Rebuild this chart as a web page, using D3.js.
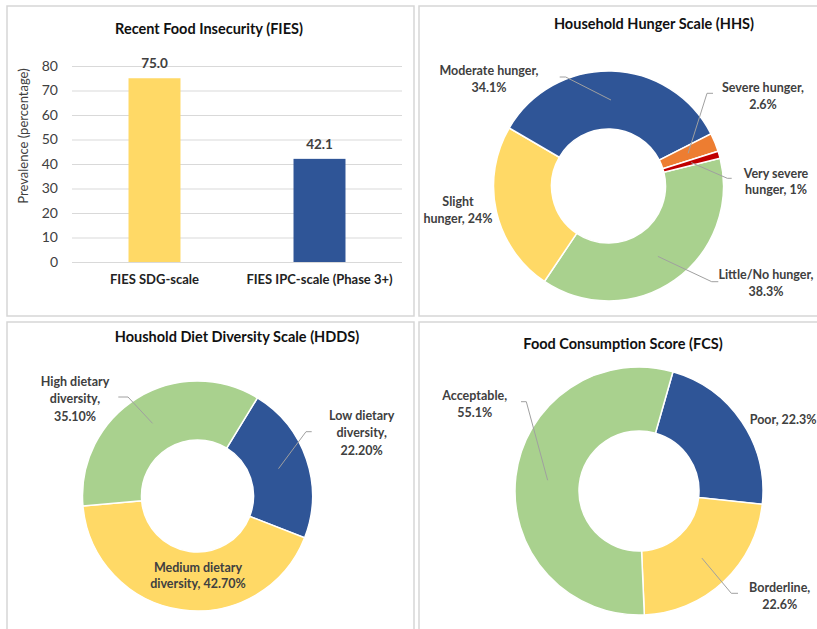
<!DOCTYPE html>
<html><head><meta charset="utf-8">
<script src="https://cdn.jsdelivr.net/npm/d3@7"></script>
<style>
body{margin:0;background:#fff}
svg{display:block;font-family:Lato,"Open Sans",sans-serif}
</style>
</head><body>
<svg id="c" width="817" height="629"></svg>
<script>
// ---------- DATA ----------
const fiesCategories = ["FIES SDG-scale", "FIES IPC-scale (Phase 3+)"];
const fiesValues = [75.0, 42.1];
const fiesTicks = [0, 10, 20, 30, 40, 50, 60, 70, 80];

const hhsCategories = ["Little/No hunger", "Slight hunger", "Moderate hunger", "Severe hunger", "Very severe hunger"];
const hhsValues = [38.3, 24, 34.1, 2.6, 1];
const hhsLabelLines = [["Little/No hunger,", "38.3%"], ["Slight", "hunger, 24%"], ["Moderate hunger,", "34.1%"], ["Severe hunger,", "2.6%"], ["Very severe", "hunger, 1%"]];

const hddsCategories = ["Low dietary diversity", "Medium dietary diversity", "High dietary diversity"];
const hddsValues = [22.2, 42.7, 35.1];
const hddsLabelLines = [["Low dietary", "diversity,", "22.20%"], ["Medium dietary", "diversity, 42.70%"], ["High dietary", "diversity,", "35.10%"]];

const fcsCategories = ["Poor", "Borderline", "Acceptable"];
const fcsValues = [22.3, 22.6, 55.1];
const fcsLabelLines = [["Poor, 22.3%"], ["Borderline,", "22.6%"], ["Acceptable,", "55.1%"]];

// ---------- STYLE ----------
const C = {blue:"#2F5597", yellow:"#FFD966", green:"#A9D18E", orange:"#ED7D31", red:"#C00000"};
const textDark = "#404040";
const svg = d3.select("#c");

// panels
const panels = [[7,6,407,310],[419,6,420,310],[7,322,407,320],[419,322,420,320]];
svg.selectAll("rect.panel").data(panels).join("rect")
  .attr("class","panel").attr("x",d=>d[0]).attr("y",d=>d[1]).attr("width",d=>d[2]).attr("height",d=>d[3])
  .attr("fill","#fff").attr("stroke","#d6d6d6").attr("stroke-width",1.5);

function title(txt, x, y){
  svg.append("text").attr("x",x).attr("y",y).attr("text-anchor","middle").attr("dominant-baseline","central")
    .attr("font-weight","bold").attr("font-size",14.5).attr("fill","#111").text(txt);
}

// ---------- BAR CHART ----------
title("Recent Food Insecurity (FIES)", 209, 28);
const y = d3.scaleLinear().domain([0,80]).range([262,66]);
const x = d3.scaleBand().domain(fiesCategories).range([72,402]).paddingInner(0.685).paddingOuter(0.3425);
const gy = svg.append("g").attr("transform","translate(72,0)")
  .call(d3.axisLeft(y).tickValues(fiesTicks).tickSize(-330).tickPadding(14));
gy.select(".domain").remove();
gy.selectAll(".tick line").attr("stroke","#d9d9d9").attr("stroke-width",1.2);
gy.selectAll(".tick text").attr("font-size",14).attr("fill",textDark).attr("font-family","Lato, sans-serif");
const gx = svg.append("g").attr("transform","translate(0,262)")
  .call(d3.axisBottom(x).tickSize(0).tickPadding(13));
gx.select(".domain").remove();
gx.selectAll(".tick text").attr("font-size",13).attr("font-weight","bold").attr("fill","#222").attr("font-family","Lato, sans-serif");
svg.append("g").selectAll("rect").data(fiesValues).join("rect")
  .attr("x",(d,i)=>x(fiesCategories[i])).attr("width",x.bandwidth())
  .attr("y",d=>y(d)).attr("height",d=>y(0)-y(d))
  .attr("fill",(d,i)=>[C.yellow,C.blue][i]);
svg.append("g").selectAll("text").data(fiesValues).join("text")
  .attr("x",(d,i)=>x(fiesCategories[i])+x.bandwidth()/2).attr("y",d=>y(d)-15)
  .attr("text-anchor","middle").attr("dominant-baseline","central")
  .attr("font-size",13.5).attr("font-weight","bold").attr("fill",textDark)
  .text(d=>d.toFixed(1));
svg.append("text").attr("transform","translate(23,136) rotate(-90)")
  .attr("text-anchor","middle").attr("dominant-baseline","central")
  .attr("font-size",13).attr("fill",textDark).text("Prevalence (percentage)");

// ---------- DONUTS ----------
function donut(o){
  const g = svg.append("g").attr("transform",`translate(${o.cx},${o.cy})`);
  const a0 = o.startDeg*Math.PI/180;
  const pie = d3.pie().sort(null).value(d=>d).startAngle(a0).endAngle(a0+2*Math.PI);
  const arc = d3.arc().innerRadius(o.rInner).outerRadius(o.rOuter);
  const arcs = pie(o.values);
  g.selectAll("path").data(arcs).join("path").attr("d",arc)
    .attr("fill",(d,i)=>o.colors[i]).attr("stroke","#fff").attr("stroke-width",1.5);
  arcs.forEach((d,i)=>{
    const L = o.layout[i];
    if(L.leader){
      const c = arc.centroid(d);
      const pts = [L.leader, [L.leader[0]+L.tail, L.leader[1]], [o.cx+c[0], o.cy+c[1]]];
      svg.append("polyline").attr("points",pts.map(p=>p.join(",")).join(" "))
        .attr("fill","none").attr("stroke","#a0a0a0").attr("stroke-width",1);
    }
    const t = svg.append("text").attr("text-anchor",L.anchor||"middle").attr("dominant-baseline","central")
      .attr("font-size",12.5).attr("font-weight","bold").attr("fill",textDark);
    o.lines[i].forEach((ln,k)=>{
      t.append("tspan").attr("x",L.x).attr("y",L.y+k*L.gap).text(ln);
    });
  });
}

title("Household Hunger Scale (HHS)", 654, 23);
donut({cx:608.5, cy:186, rOuter:115, rInner:57, startDeg:76,
  values:hhsValues, colors:[C.green,C.yellow,C.blue,C.orange,C.red], lines:hhsLabelLines,
  layout:[
    {x:766, y:274, gap:17, leader:[718.3,281.7], tail:-6.6},
    {x:458, y:201, gap:16.5},
    {x:489, y:70, gap:16.5, leader:[559.7,77], tail:6},
    {x:763, y:87, gap:16.5, leader:[713,93.3], tail:-6},
    {x:776, y:173, gap:15.5, leader:[731.7,178.3], tail:-4.4}
  ]});

title("Houshold Diet Diversity Scale (HDDS)", 237, 336);
donut({cx:197.5, cy:496, rOuter:115, rInner:56, startDeg:31.4,
  values:hddsValues, colors:[C.blue,C.yellow,C.green], lines:hddsLabelLines,
  layout:[
    {x:361.7, y:415, gap:17.3, leader:[311.7,431.7], tail:-5.7},
    {x:198, y:566.7, gap:16.5},
    {x:75, y:380.7, gap:17.5, leader:[118.3,397], tail:9.7}
  ]});

title("Food Consumption Score (FCS)", 623, 343);
donut({cx:639, cy:491, rOuter:124, rInner:60, startDeg:15.9,
  values:fcsValues, colors:[C.blue,C.yellow,C.green], lines:fcsLabelLines,
  layout:[
    {x:749.7, y:419, gap:16.5, anchor:"start"},
    {x:779.7, y:586.7, gap:17.6, leader:[738,593.3], tail:-6.7},
    {x:474.7, y:395, gap:16.7, leader:[521,401.7], tail:5.3}
  ]});
</script>
</body></html>
